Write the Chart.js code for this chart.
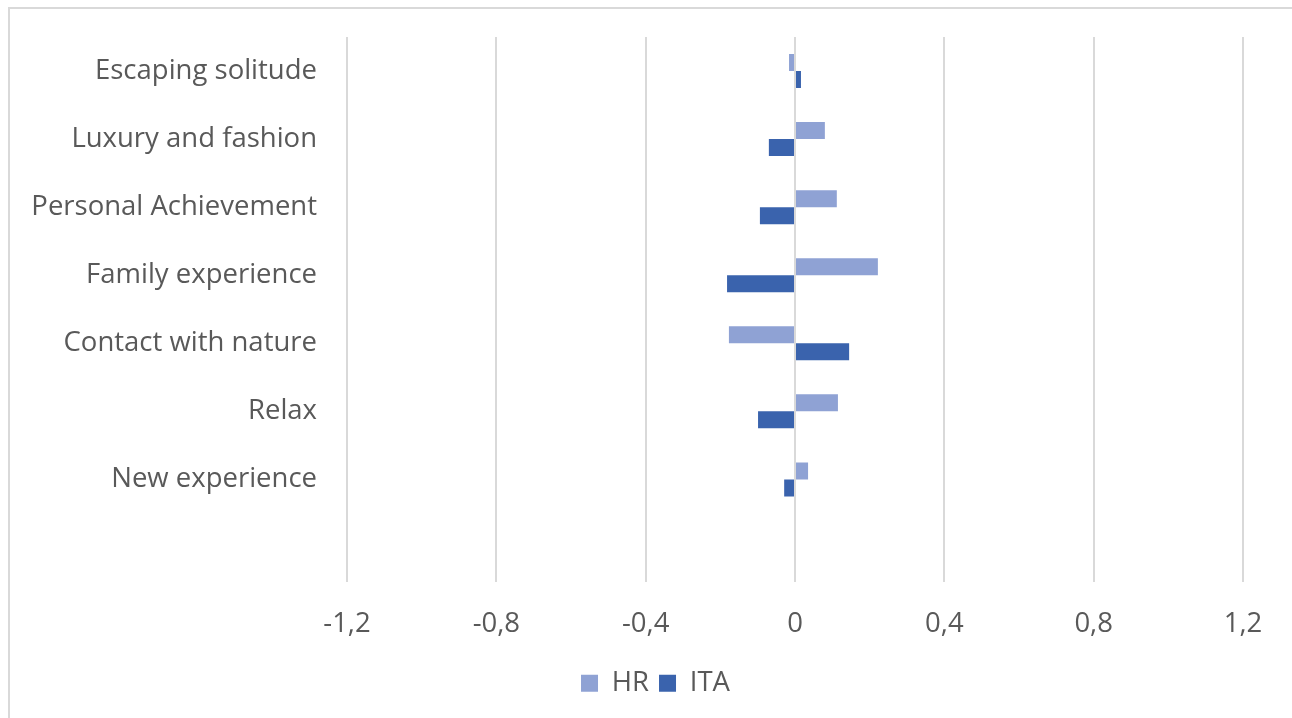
<!DOCTYPE html>
<html>
<head>
<meta charset="utf-8">
<script src="https://cdn.jsdelivr.net/npm/chart.js@4/dist/chart.umd.min.js"></script>
<style>
  html, body { margin: 0; padding: 0; background: #ffffff; overflow: hidden; }
  #frame { position: absolute; left: 8px; top: 7px; width: 1400px; height: 800px;
           border-left: 2px solid #d9d9d9; border-top: 2px solid #d9d9d9; }
  #wrap { position: absolute; left: 0; top: 0; width: 1292px; height: 718px; }
</style>
</head>
<body>
<div id="frame"></div>
<div id="wrap"><canvas id="c" width="1292" height="718"></canvas></div>
<script>
// Motivation categories (top to bottom); the final slot is left blank
const categories = [
  "Escaping solitude",
  "Luxury and fashion",
  "Personal Achievement",
  "Family experience",
  "Contact with nature",
  "Relax",
  "New experience",
  ""
];
const hrValues  = [-0.016, 0.080, 0.112, 0.222, -0.177, 0.115, 0.035, null];
const itaValues = [ 0.016, -0.070, -0.094, -0.182, 0.145, -0.099, -0.029, null];
const xTicks = [-1.2, -0.8, -0.4, 0, 0.4, 0.8, 1.2];

const textColor = "#595959";
const fontFamily = "'Open Sans', Lato, sans-serif";
const fontSize = 27.5;

// Centre the legend under the frame rather than under the padded chart box
const legendShift = {
  id: "legendShift",
  afterLayout(chart) {
    if (chart.legend) { chart.legend.left += 68; }
  }
};

new Chart(document.getElementById("c"), {
  type: "bar",
  data: {
    labels: categories,
    datasets: [
      { label: "HR",  data: hrValues,  backgroundColor: "#8fa2d4", barPercentage: 1.0, categoryPercentage: 0.5 },
      { label: "ITA", data: itaValues, backgroundColor: "#3a63ad", barPercentage: 1.0, categoryPercentage: 0.5 }
    ]
  },
  plugins: [legendShift],
  options: {
    indexAxis: "y",
    responsive: false,
    animation: false,
    devicePixelRatio: 1,
    layout: { padding: { left: 0, right: 49, top: 37, bottom: 11 } },
    plugins: {
      tooltip: { enabled: false },
      legend: {
        position: "bottom",
        labels: {
          color: textColor,
          font: { family: fontFamily, size: fontSize },
          boxWidth: 17, boxHeight: 17, padding: 10, useBorderRadius: false
        }
      }
    },
    scales: {
      x: {
        min: -1.2, max: 1.2,
        afterBuildTicks: (s) => { s.ticks = xTicks.map(v => ({ value: v })); },
        afterFit: (s) => { s.height = 78; s.paddingLeft = 0; s.paddingRight = 0; },
        border: { display: false },
        grid: { color: "#d9d9d9", lineWidth: 2, drawTicks: false },
        ticks: {
          color: textColor,
          font: { family: fontFamily, size: fontSize },
          padding: 26,
          callback: (v) => (v === 0 ? "0" : String(Math.round(v * 10) / 10).replace(".", ","))
        }
      },
      y: {
        afterFit: (s) => { s.width = 347; s.paddingTop = 0; s.paddingBottom = 0; },
        border: { display: false },
        grid: { display: false, drawTicks: false },
        ticks: {
          color: textColor,
          font: { family: fontFamily, size: fontSize },
          padding: 30
        }
      }
    }
  }
});
</script>
</body>
</html>
